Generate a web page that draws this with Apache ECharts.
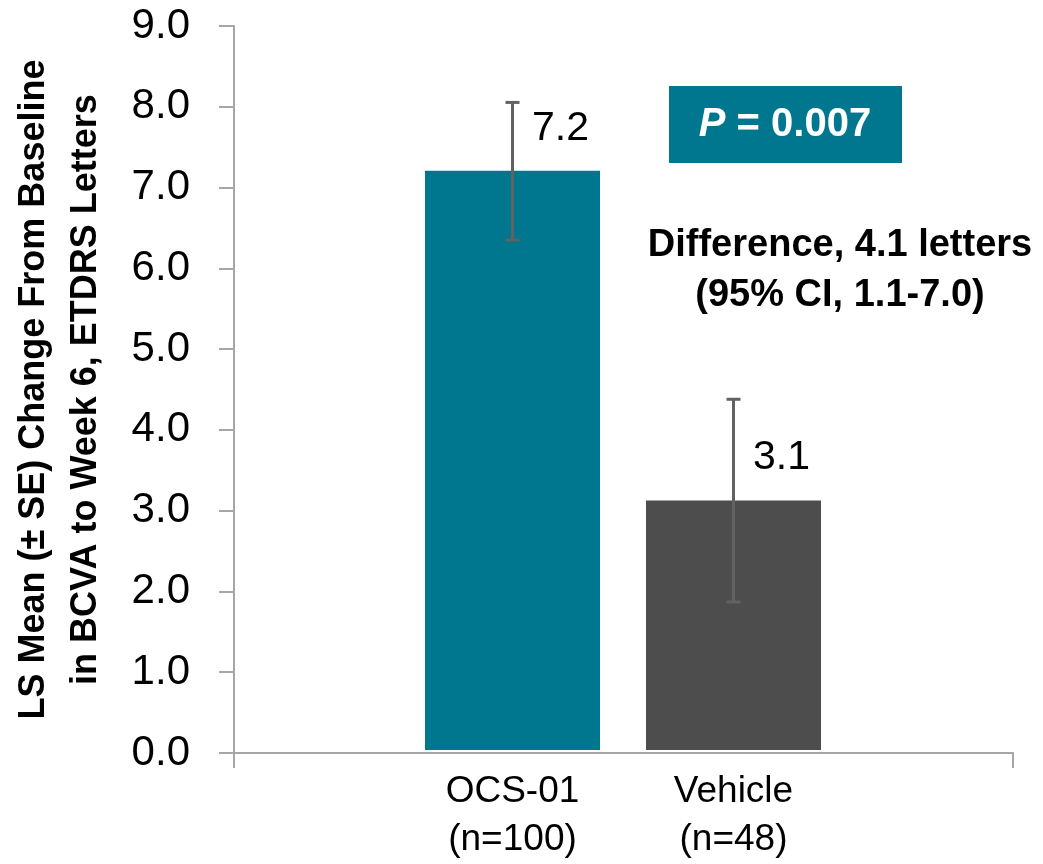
<!DOCTYPE html>
<html>
<head>
<meta charset="utf-8">
<script src="https://cdn.jsdelivr.net/npm/echarts@6.0.0/dist/echarts.min.js"></script>
<style>
  html, body { margin: 0; padding: 0; background: #fff; }
  #root { width: 1043px; height: 864px; }
</style>
</head>
<body>
<div id="root"></div>
<script>
// chart values
const categories = ['OCS-01\n(n=100)', 'Vehicle\n(n=48)']
const means = [7.2, 3.1]
const seLow = [6.34, 1.84]
const seHigh = [8.05, 4.36]
const barColors = ['#00778F', '#4D4D4D']
const yTicks = { min: 0, max: 9, interval: 1 }

const font = '"Liberation Sans", Arial, sans-serif'
const axisGray = '#A6A6A6'
const errColor = '#626262'

const chart = echarts.init(document.getElementById('root'))

const renderErrorBar = (params, api) => {
  const x = api.value(0)
  const top = api.coord([x, api.value(2)])
  const bottom = api.coord([x, api.value(1)])
  const cap = 7
  const style = { stroke: errColor, lineWidth: 3 }
  return {
    type: 'group',
    children: [
      { type: 'line', shape: { x1: top[0], y1: top[1], x2: bottom[0], y2: bottom[1] }, style },
      { type: 'line', shape: { x1: top[0] - cap, y1: top[1], x2: top[0] + cap, y2: top[1] }, style },
      { type: 'line', shape: { x1: bottom[0] - cap, y1: bottom[1], x2: bottom[0] + cap, y2: bottom[1] }, style }
    ]
  }
}

const option = {
  backgroundColor: '#fff',
  animation: false,
  grid: [
    { left: 234, right: 30, top: 26, bottom: 111 },
    { left: 402, width: 442, top: 26, bottom: 111 }
  ],
  xAxis: [
    {
      type: 'category',
      gridIndex: 0,
      data: [''],
      axisLine: { lineStyle: { color: axisGray, width: 2 } },
      axisTick: { show: true, length: 15, lineStyle: { color: axisGray, width: 2 } },
      axisLabel: { show: false }
    },
    {
      type: 'category',
      gridIndex: 1,
      data: categories,
      axisLine: { show: false },
      axisTick: { show: false },
      axisLabel: {
        color: '#000',
        fontFamily: font,
        fontSize: 37,
        lineHeight: 48,
        margin: 18,
        interval: 0
      }
    }
  ],
  yAxis: [
    {
      type: 'value',
      gridIndex: 0,
      min: yTicks.min,
      max: yTicks.max,
      interval: yTicks.interval,
      name: 'LS Mean (± SE) Change From Baseline\nin BCVA to Week 6, ETDRS Letters',
      nameLocation: 'middle',
      nameRotate: 90,
      nameGap: 122,
      nameTextStyle: {
        color: '#000',
        fontFamily: font,
        fontWeight: 'bold',
        fontSize: 36,
        lineHeight: 52
      },
      axisLine: { show: true, lineStyle: { color: axisGray, width: 2 } },
      axisTick: { show: true, length: 15, lineStyle: { color: axisGray, width: 2 } },
      splitLine: { show: false },
      axisLabel: {
        color: '#000',
        fontFamily: font,
        fontSize: 42,
        margin: 44,
        formatter: v => v.toFixed(1)
      }
    },
    {
      type: 'value',
      gridIndex: 1,
      min: yTicks.min,
      max: yTicks.max,
      interval: yTicks.interval,
      show: false
    }
  ],
  series: [
    {
      type: 'bar',
      xAxisIndex: 1,
      yAxisIndex: 1,
      barWidth: 175,
      data: means.map((v, i) => ({ value: v, itemStyle: { color: barColors[i] } })),
      label: {
        show: true,
        position: 'top',
        distance: 22,
        offset: [48, 0],
        color: '#000',
        fontFamily: font,
        fontSize: 41,
        formatter: p => p.value.toFixed(1)
      }
    },
    {
      type: 'custom',
      xAxisIndex: 1,
      yAxisIndex: 1,
      renderItem: renderErrorBar,
      data: means.map((v, i) => [i, seLow[i], seHigh[i]]),
      z: 10
    }
  ],
  graphic: [
    {
      type: 'rect',
      left: 669,
      top: 86,
      shape: { width: 233, height: 77 },
      style: { fill: '#00778F' }
    },
    {
      type: 'text',
      x: 785,
      y: 125,
      style: {
        text: '{i|P} = 0.007',
        align: 'center',
        verticalAlign: 'middle',
        fill: '#fff',
        font: 'bold 40px ' + font,
        rich: {
          i: { fontStyle: 'italic', fontWeight: 'bold', fontSize: 40, fontFamily: font, fill: '#fff' }
        }
      }
    },
    {
      type: 'text',
      x: 840,
      y: 271,
      style: {
        text: 'Difference, 4.1 letters\n(95% CI, 1.1-7.0)',
        align: 'center',
        verticalAlign: 'middle',
        lineHeight: 50,
        fill: '#000',
        font: 'bold 38px ' + font
      }
    }
  ]
}

chart.setOption(option)
</script>
</body>
</html>
